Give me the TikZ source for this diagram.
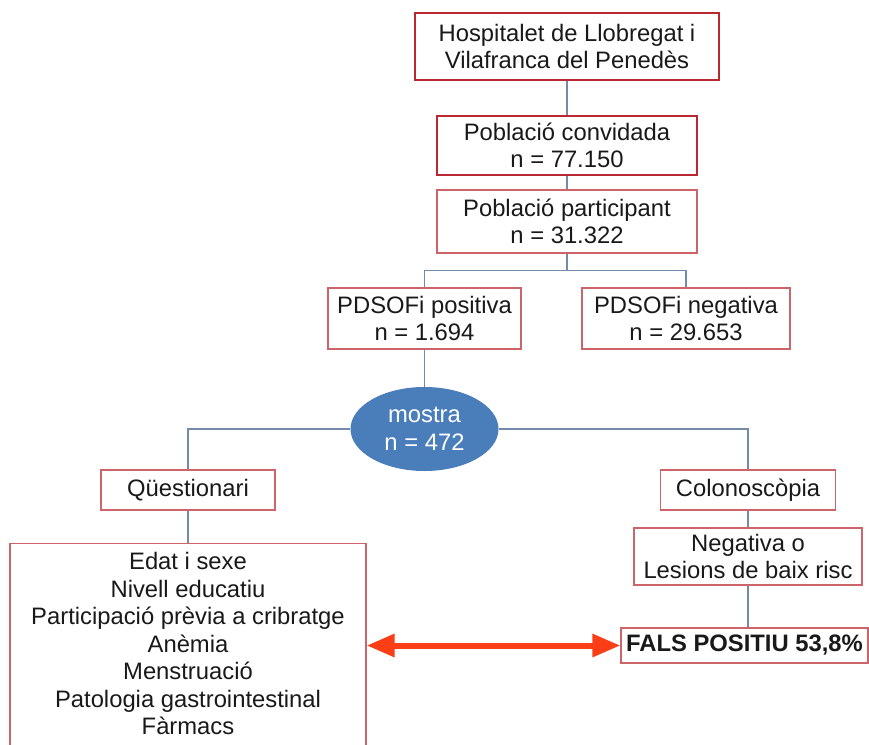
\documentclass[tikz,border=0pt]{standalone}
\usepackage{fontspec}
\setmainfont{Liberation Sans}
\usetikzlibrary{shapes.geometric, arrows.meta, positioning, calc}
\definecolor{boxred}{RGB}{185, 40, 48}
\definecolor{boxpink}{RGB}{205, 100, 106}
\definecolor{linkblue}{RGB}{115, 138, 168}
\definecolor{ovalblue}{RGB}{74, 126, 187}
\definecolor{arrowred}{RGB}{250, 62, 22}

\begin{document}
\begin{tikzpicture}[
    x=1pt, y=-1pt,
    box/.style={rectangle, draw=boxpink, line width=1.2pt, fill=white, align=center, inner sep=0pt, text=black!90, font=\fontsize{23.8}{27.5}\selectfont},
    keybox/.style={box, draw=boxred, line width=2.4pt},
    oval/.style={ellipse, fill=ovalblue, text=white, align=center, inner sep=0pt, font=\fontsize{23.8}{27.5}\selectfont},
    link/.style={draw=linkblue, line width=1.3pt},
    bothway/.style={draw=arrowred, line width=6pt, {Triangle[length=28pt,width=22pt]}-{Triangle[length=28pt,width=22pt]}}
]
\useasboundingbox (0,0) rectangle (869,744);

% Population
\node[keybox, minimum width=304pt, minimum height=67pt] (area) at (567,46.5) {Hospitalet de Llobregat i\\Vilafranca del Penedès};
\node[keybox, minimum width=260pt, minimum height=59pt] (invited) at (567,145.5) {Població convidada\\n = 77.150};
\node[box, minimum width=260pt, minimum height=63pt] (partic) at (567,221.5) {Població participant\\n = 31.322};

% Test result
\node[box, minimum width=193pt, minimum height=61pt] (pos) at (424.5,318.5) {PDSOFi positiva\\n = 1.694};
\node[box, minimum width=208pt, minimum height=61pt] (neg) at (686,318.5) {PDSOFi negativa\\n = 29.653};

% Sample
\node[oval, minimum width=148pt, minimum height=84pt] (sample) at (424.5,429) {mostra\\n = 472};

% Branches
\node[box, minimum width=174pt, minimum height=40pt] (quest) at (188,490) {Qüestionari};
\node[box, minimum width=175pt, minimum height=40pt] (colon) at (748,490) {Colonoscòpia};
\node[box, anchor=north, minimum width=356pt, inner ysep=9pt, text depth=40pt] (factors) at (188,543) {Edat i sexe\\Nivell educatiu\\Participació prèvia a cribratge\\Anèmia\\Menstruació\\Patologia gastrointestinal\\Fàrmacs};
\node[box, minimum width=228pt, minimum height=57pt] (lowrisk) at (748,556.5) {Negativa o\\Lesions de baix risc};
\node[box, minimum width=247pt, minimum height=35pt, font=\fontsize{23.8}{27.5}\selectfont\bfseries] (falsepos) at (744.5,645.5) {FALS POSITIU 53,8\%};

% Connectors
\draw[link] (area) -- (invited);
\draw[link] (invited) -- (partic);
\draw[link] (partic.south) -- ++(0,17) -| (pos.north);
\draw[link] (partic.south) -- ++(0,17) -| (neg.north);
\draw[link] (pos) -- (sample);
\draw[link] (sample.west) -| (quest.north);
\draw[link] (sample.east) -| (colon.north);
\draw[link] (quest) -- (factors);
\draw[link] (colon) -- (lowrisk);
\draw[link] (lowrisk.south) -- (lowrisk.south |- falsepos.north);

% Association
\draw[bothway] (falsepos.west -| factors.east) -- (falsepos.west);

\end{tikzpicture}
\end{document}
